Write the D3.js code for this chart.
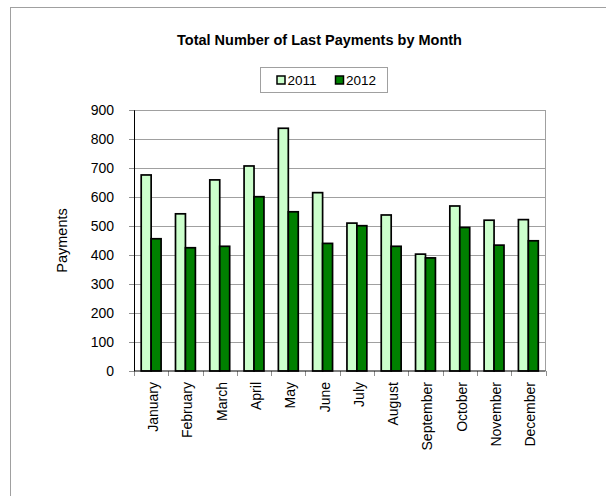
<!DOCTYPE html>
<html>
<head>
<meta charset="utf-8">
<script src="https://cdn.jsdelivr.net/npm/d3@7"></script>
<style>
  body { margin: 0; background: #fff; }
  text { font-family: "Liberation Sans", Arial, sans-serif; fill: #000; }
</style>
</head>
<body>
<div id="chart"></div>
<script>
var months = ["January", "February", "March", "April", "May", "June",
  "July", "August", "September", "October", "November", "December"];
var series = ["2011", "2012"];
var values2011 = [676, 542, 659, 707, 837, 615, 510, 538, 403, 569, 520, 522];
var values2012 = [456, 425, 430, 601, 549, 440, 501, 430, 390, 495, 434, 449];
var yTicks = [0, 100, 200, 300, 400, 500, 600, 700, 800, 900];
var colors = ["#ccffcc", "#008000"];

var W = 606, H = 496;
var plot = { left: 134, right: 545.5, top: 110, bottom: 371 };

var svg = d3.select("#chart").append("svg")
    .attr("width", W)
    .attr("height", H);

// outer chart area border
svg.append("rect")
    .attr("x", 10.5).attr("y", 7.5)
    .attr("width", 700).attr("height", 600)
    .attr("fill", "none")
    .attr("stroke", "#a0a0a0");

var x = d3.scaleBand()
    .domain(months)
    .range([plot.left, plot.right])
    .paddingInner(0.42)
    .paddingOuter(0.21);

var xs = d3.scaleBand()
    .domain(series)
    .range([0, x.bandwidth()]);

var y = d3.scaleLinear()
    .domain([0, 900])
    .range([plot.bottom, plot.top]);

// gridlines
svg.append("g")
    .selectAll("line")
    .data(yTicks.filter(function (d) { return d > 0; }))
    .enter().append("line")
    .attr("x1", plot.left).attr("x2", plot.right)
    .attr("y1", function (d) { return Math.round(y(d)) + 0.5; })
    .attr("y2", function (d) { return Math.round(y(d)) + 0.5; })
    .attr("stroke", "#a0a0a0");

// right border of plot
svg.append("line")
    .attr("x1", plot.right).attr("x2", plot.right)
    .attr("y1", plot.top).attr("y2", plot.bottom)
    .attr("stroke", "#a0a0a0");

// bars
var rows = months.map(function (m, i) {
  return { month: m, vals: [values2011[i], values2012[i]] };
});

var groups = svg.append("g")
    .selectAll("g")
    .data(rows)
    .enter().append("g")
    .attr("transform", function (d) { return "translate(" + x(d.month) + ",0)"; });

groups.selectAll("rect")
    .data(function (d) { return d.vals.map(function (v, j) { return { key: series[j], v: v, j: j }; }); })
    .enter().append("rect")
    .attr("x", function (d) { return xs(d.key); })
    .attr("y", function (d) { return y(d.v); })
    .attr("width", xs.bandwidth())
    .attr("height", function (d) { return y(0) - y(d.v); })
    .attr("fill", function (d) { return colors[d.j]; })
    .attr("stroke", "#000")
    .attr("stroke-width", 1.7);

// y axis
var yAxis = svg.append("g")
    .attr("transform", "translate(" + plot.left + ",0)")
    .call(d3.axisLeft(y).tickValues(yTicks).tickSize(5).tickPadding(15));
yAxis.select(".domain").attr("stroke", "#000");
yAxis.selectAll(".tick line").attr("stroke", "#909090");
yAxis.selectAll(".tick text")
    .attr("font-size", "14px")
    .attr("font-family", "Liberation Sans, Arial, sans-serif")
    .attr("fill", "#000");

// x axis: ticks on category boundaries
var xAxisG = svg.append("g");
var step = x.step();
var bounds = d3.range(months.length + 1);
xAxisG.selectAll(".xt")
    .data(bounds)
    .enter().append("line")
    .attr("x1", function (i) { return Math.round(plot.left + i * step) + 0.5; })
    .attr("x2", function (i) { return Math.round(plot.left + i * step) + 0.5; })
    .attr("y1", plot.bottom).attr("y2", plot.bottom + 5)
    .attr("stroke", "#909090");
xAxisG.append("line")
    .attr("x1", plot.left).attr("x2", plot.right)
    .attr("y1", plot.bottom).attr("y2", plot.bottom)
    .attr("stroke", "#000").attr("stroke-width", 1.2);

xAxisG.selectAll(".xl")
    .data(months)
    .enter().append("text")
    .attr("transform", function (d) {
      return "translate(" + (x(d) + x.bandwidth() / 2 + 2) + "," + (plot.bottom + 11) + ") rotate(-90)";
    })
    .attr("dy", "0.35em")
    .attr("text-anchor", "end")
    .attr("font-size", "14px")
    .text(function (d) { return d; });

// y label
svg.append("text")
    .attr("transform", "translate(67," + ((plot.top + plot.bottom) / 2) + ") rotate(-90)")
    .attr("text-anchor", "middle")
    .attr("font-size", "14.5px")
    .text("Payments");

// title
svg.append("text")
    .attr("x", 319.5).attr("y", 45)
    .attr("text-anchor", "middle")
    .attr("font-size", "14.5px")
    .attr("font-weight", "bold")
    .text("Total Number of Last Payments by Month");

// legend
var legend = svg.append("g");
legend.append("rect")
    .attr("x", 260.5).attr("y", 67.5)
    .attr("width", 127).attr("height", 25)
    .attr("fill", "#fff")
    .attr("stroke", "#a0a0a0");
var legX = [277, 335.5];
var items = legend.selectAll(".li")
    .data(series)
    .enter().append("g")
    .attr("transform", function (d, i) { return "translate(" + legX[i] + ",76)"; });
items.append("rect")
    .attr("width", 8).attr("height", 8)
    .attr("fill", function (d, i) { return colors[i]; })
    .attr("stroke", "#000")
    .attr("stroke-width", 1.5);
items.append("text")
    .attr("x", 10.5).attr("y", 4)
    .attr("dy", "0.36em")
    .attr("font-size", "13.5px")
    .text(function (d) { return d; });
</script>
</body>
</html>
